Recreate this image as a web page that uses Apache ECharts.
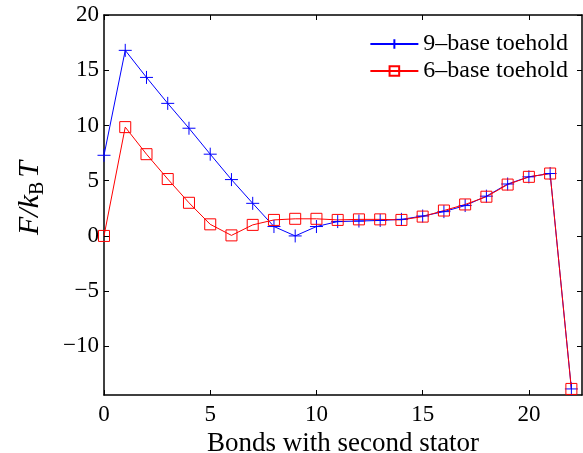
<!DOCTYPE html>
<html>
<head>
<meta charset="utf-8">
<script src="https://cdn.jsdelivr.net/npm/echarts@6/dist/echarts.min.js"></script>
<style>
  html, body { margin: 0; padding: 0; background: #fff; }
  #chart { width: 583px; height: 453px; }
</style>
</head>
<body>
<div id="chart"></div>
<script>
// bonds with second stator
const bonds = [0, 1, 2, 3, 4, 5, 6, 7, 8, 9, 10, 11, 12, 13, 14, 15, 16, 17, 18, 19, 20, 21, 22];
// F/kBT, 9-base toehold
const toehold9 = [7.3, 16.8, 14.35, 12.0, 9.75, 7.4, 5.1, 2.95, 0.85, 0.0, 0.85, 1.3, 1.35, 1.4, 1.5, 1.8, 2.2, 2.75, 3.6, 4.7, 5.35, 5.65, -13.85];
// F/kBT, 6-base toehold
const toehold6 = [0.0, 9.85, 7.4, 5.15, 3.0, 1.05, 0.05, 1.0, 1.45, 1.55, 1.55, 1.45, 1.5, 1.5, 1.45, 1.75, 2.3, 2.85, 3.55, 4.65, 5.35, 5.65, -13.85];
const xTicks = [0, 5, 10, 15, 20];
const yTicks = [-10, -5, 0, 5, 10, 15, 20];

const FONT = 'Liberation Serif';
const plus = 'path://M0,-10L0,10M-10,0L10,0';

function pairs(ys) {
  return bonds.map((b, i) => [b, ys[i]]);
}

const chart = echarts.init(document.getElementById('chart'));

const boxAxis = {
  axisLine: { show: true, onZero: false, lineStyle: { color: '#000', width: 1.5 } },
  axisTick: { show: true, inside: true, length: 5, lineStyle: { color: '#000', width: 1 } },
  splitLine: { show: false }
};

chart.setOption({
  animation: false,
  backgroundColor: '#fff',
  grid: { left: 104, right: 1, top: 15, bottom: 58, outerBoundsMode: 'none', containLabel: false },
  legend: {
    orient: 'vertical',
    right: 10,
    top: 27,
    itemWidth: 48,
    itemHeight: 12,
    itemGap: 3,
    textStyle: { fontFamily: FONT, fontSize: 24, color: '#000' },
    data: ['9–base toehold', '6–base toehold']
  },
  xAxis: [
    Object.assign({}, boxAxis, {
      type: 'value', min: 0, max: 22.5, position: 'bottom',
      axisTick: Object.assign({}, boxAxis.axisTick, { customValues: xTicks }),
      axisLabel: { customValues: xTicks, fontFamily: FONT, fontSize: 23, color: '#000', margin: 8 },
      name: 'Bonds with second stator',
      nameLocation: 'middle',
      nameGap: 29,
      nameTextStyle: { fontFamily: FONT, fontSize: 27, color: '#000' }
    }),
    Object.assign({}, boxAxis, {
      type: 'value', min: 0, max: 22.5, position: 'top',
      axisTick: Object.assign({}, boxAxis.axisTick, { customValues: xTicks }),
      axisLabel: { show: false }
    })
  ],
  yAxis: [
    Object.assign({}, boxAxis, {
      type: 'value', min: -14.4, max: 20, position: 'left',
      axisTick: Object.assign({}, boxAxis.axisTick, { customValues: yTicks }),
      axisLabel: { customValues: yTicks, fontFamily: FONT, fontSize: 23, color: '#000', margin: 5,
        formatter: v => (v < 0 ? '\u2212' + Math.abs(v) : String(v)) },
      name: '{i|F/k}{s|B}{t|T}',
      nameLocation: 'middle',
      nameGap: 56,
      nameTextStyle: {
        padding: [0, 0, 0, 14],
        rich: {
          i: { fontFamily: FONT, fontSize: 30, fontStyle: 'italic', color: '#000' },
          s: { fontFamily: FONT, fontSize: 20, color: '#000', padding: [15, 0, 0, 0] },
          t: { fontFamily: FONT, fontSize: 30, fontStyle: 'italic', color: '#000', padding: [0, 0, 0, 4] }
        }
      }
    }),
    Object.assign({}, boxAxis, {
      type: 'value', min: -14.4, max: 20, position: 'right',
      axisTick: Object.assign({}, boxAxis.axisTick, { customValues: yTicks }),
      axisLabel: { show: false }
    })
  ],
  series: [
    {
      name: '9–base toehold',
      type: 'line',
      data: pairs(toehold9),
      symbol: plus,
      symbolSize: 13,
      showAllSymbol: true,
      lineStyle: { color: '#0000ff', width: 1 },
      itemStyle: { color: '#0000ff', borderColor: '#0000ff', borderWidth: 1 }
    },
    {
      name: '6–base toehold',
      type: 'line',
      data: pairs(toehold6),
      symbol: 'rect',
      symbolSize: 11,
      showAllSymbol: true,
      lineStyle: { color: '#ff0000', width: 1 },
      itemStyle: { color: 'rgba(0,0,0,0)', borderColor: '#ff0000', borderWidth: 1 }
    }
  ]
});
</script>
</body>
</html>
